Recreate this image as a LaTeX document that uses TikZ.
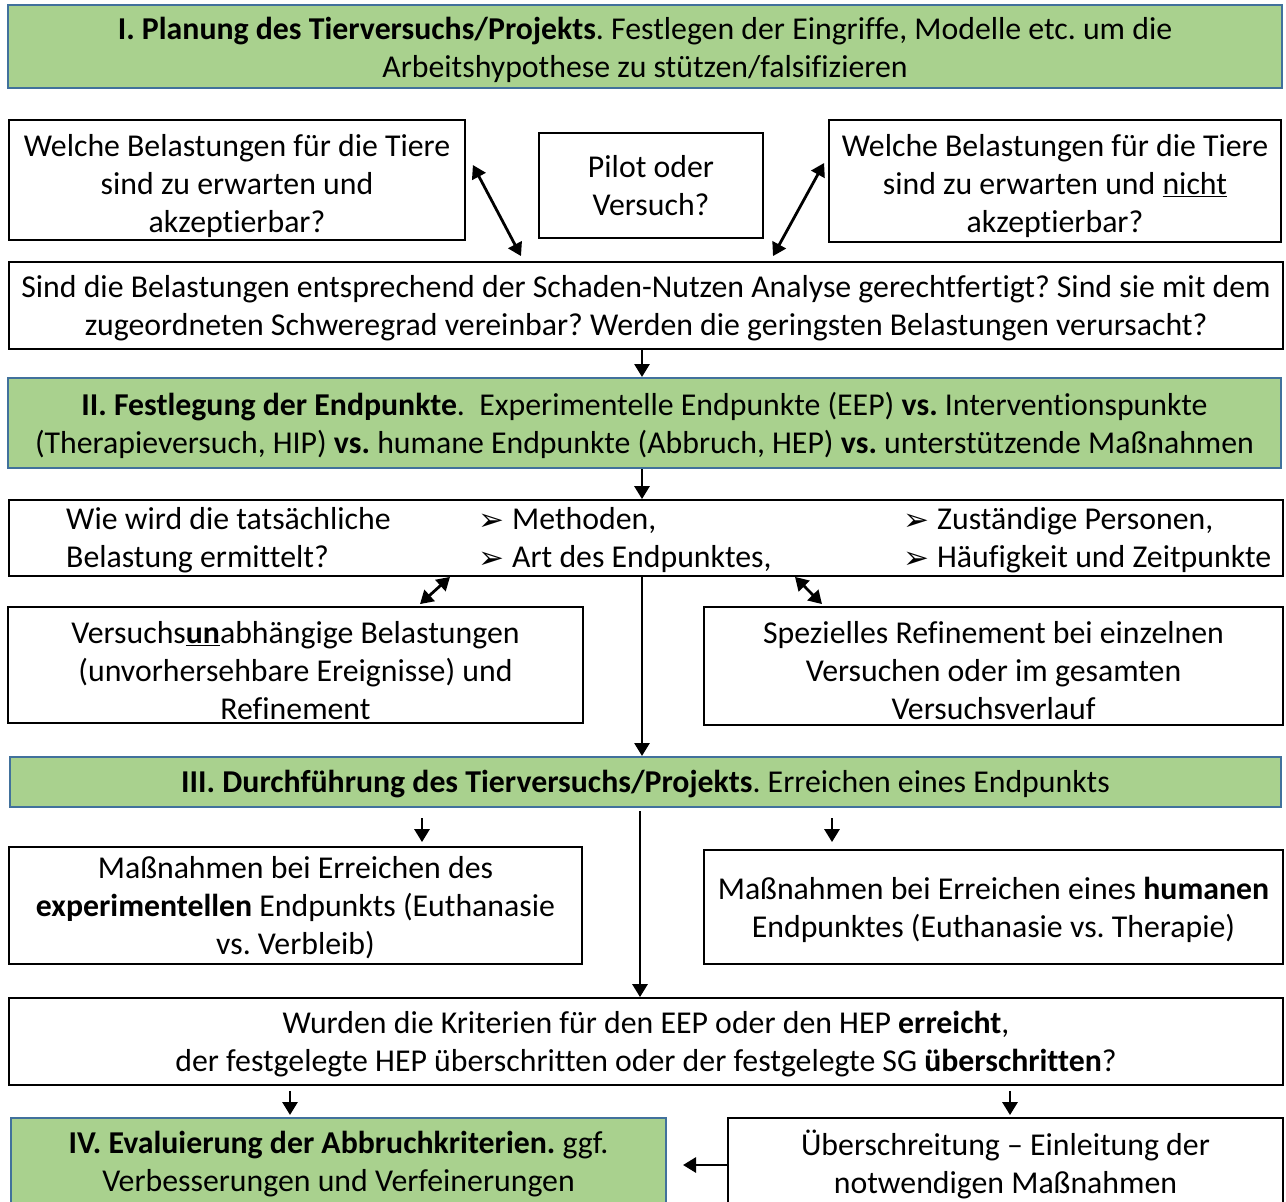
\documentclass[tikz,border=0pt]{standalone}
\usepackage{fontspec}
\setmainfont[Ligatures=NoCommon]{Carlito}
\newfontfamily\dv{DejaVu Sans}
\usetikzlibrary{arrows.meta}
\definecolor{grn}{HTML}{A9D18E}
\definecolor{gbd}{HTML}{41719C}
\tikzset{
  box/.style={draw=black, line width=1.8pt, fill=white, inner sep=0pt},
  gbox/.style={draw=gbd, line width=2pt, fill=grn, inner sep=0pt},
  txt/.style={align=center, inner sep=0pt},
  arr/.style={line width=2.8pt, -{Triangle[length=13pt,width=15pt]}},
  dbl/.style={line width=2.8pt, {Triangle[length=13pt,width=15pt]}-{Triangle[length=13pt,width=15pt]}},
}
\newcommand{\bul}{\raisebox{-1pt}{\dv\fontsize{31}{31}\selectfont ➢}\hspace{8pt}}
% #1 style, #2 name, #3 centre, #4 width, #5 height, #6 text drop, #7 text
\newcommand{\bx}[7]{%
  \node[#1, minimum width=#4pt, minimum height=#5pt] (#2) at (#3) {};
  \node[txt] (#2t) at ([yshift=-#6pt]#2.center) {#7};}
\begin{document}
\frenchspacing
\begin{tikzpicture}[x=1pt,y=-1pt]
\fontsize{31.8}{38}\selectfont
\useasboundingbox (0,0) rectangle (1286,1202);
\fill[white] (0,0) rectangle (1286,1202);

\bx{gbox}{P1}{645,46.5}{1274}{83}{3}
 {\textbf{I. Planung des Tierversuchs/Projekts}. Festlegen der Eingriffe, Modelle etc. um die\\Arbeitshypothese zu stützen/falsifizieren}

\bx{box}{L1}{237,180}{456}{120}{6}
 {Welche Belastungen für die Tiere\\sind zu erwarten und\\akzeptierbar?}
\bx{box}{M1}{651,185.5}{224}{105}{0}
 {Pilot oder\\Versuch?}
\bx{box}{R1}{1055,181}{452}{122}{5}
 {Welche Belastungen für die Tiere\\sind zu erwarten und \underline{nicht}\\akzeptierbar?}

\bx{box}{S}{646,305.5}{1274}{87}{3}
 {Sind die Belastungen entsprechend der Schaden-Nutzen Analyse gerechtfertigt? Sind sie mit dem\\zugeordneten Schweregrad vereinbar? Werden die geringsten Belastungen verursacht?}

\bx{gbox}{P2}{644.5,423}{1273}{90}{2}
 {\textbf{II. Festlegung der Endpunkte}. \ Experimentelle Endpunkte (EEP) \textbf{vs.} Interventionspunkte\\(Therapieversuch, HIP) \textbf{vs.} humane Endpunkte (Abbruch, HEP) \textbf{vs.} unterstützende Maßnahmen}

\node[box, minimum width=1274pt, minimum height=76pt] (W) at (646,538) {};
\node[anchor=west, align=left, inner sep=0pt] (W1) at (66,540)
 {Wie wird die tatsächliche\\Belastung ermittelt?};
\node[anchor=west, align=left, inner sep=0pt] (W2) at (478,540)
 {\bul Methoden,\\\bul Art des Endpunktes,};
\node[anchor=west, align=left, inner sep=0pt] (W3) at (903,540)
 {\bul Zuständige Personen,\\\bul Häufigkeit und Zeitpunkte};

\bx{box}{L2}{295.5,665}{575}{116}{6}
 {Versuchs\textbf{\underline{un}}abhängige Belastungen\\(unvorhersehbare Ereignisse) und\\Refinement}
\bx{box}{R2}{993.5,666}{579}{118}{5}
 {Spezielles Refinement bei einzelnen\\Versuchen oder im gesamten\\Versuchsverlauf}

\bx{gbox}{P3}{645.5,782}{1271}{50}{2}
 {\textbf{III. Durchführung des Tierversuchs/Projekts}. Erreichen eines Endpunkts}

\bx{box}{L3}{295.5,905.5}{573}{117}{2}
 {Maßnahmen bei Erreichen des\\\textbf{experimentellen} Endpunkts (Euthanasie\\vs. Verbleib)}
\bx{box}{R3}{993.5,907}{579}{114}{3}
 {Maßnahmen bei Erreichen eines \textbf{humanen}\\Endpunktes (Euthanasie vs. Therapie)}

\bx{box}{Q}{646,1041.5}{1274}{87}{3}
 {Wurden die Kriterien für den EEP oder den HEP \textbf{erreicht},\\der festgelegte HEP überschritten oder der festgelegte SG \textbf{überschritten}?}

\bx{gbox}{P4}{338.5,1162}{655}{88}{2}
 {\textbf{IV. Evaluierung der Abbruchkriterien.} ggf.\\Verbesserungen und Verfeinerungen}
\bx{box}{R4}{1005.5,1162}{555}{88}{2}
 {Überschreitung -- Einleitung der\\notwendigen Maßnahmen}

% connectors
\draw[dbl] ([xshift=7pt,yshift=15pt]L1.east) -- ([xshift=-125pt,yshift=5pt]S.north);
\draw[dbl] ([xshift=-4pt,yshift=18pt]R1.west) -- ([xshift=127pt,yshift=5pt]S.north);
\draw[arr] ([xshift=-4pt]S.south) -- ([xshift=-2.5pt]P2.north);
\draw[arr] ([xshift=-2.5pt]P2.south) -- ([xshift=-4pt]W.north);
\draw[dbl] ([xshift=-196pt]W.south) -- ([xshift=124.5pt,yshift=2pt]L2.north);
\draw[dbl] ([xshift=149pt]W.south) -- ([xshift=-171.5pt,yshift=2pt]R2.north);
\draw[arr] ([xshift=-4pt]W.south) -- ([xshift=-3.5pt]P3.north);
\draw[arr] ([xshift=-223.5pt,yshift=-10pt]P3.south) -- ([xshift=126.5pt,yshift=4pt]L3.north);
\draw[arr] ([xshift=186.5pt,yshift=-10pt]P3.south) -- ([xshift=-161.5pt,yshift=7pt]R3.north);
\draw[arr] ([xshift=-5.5pt,yshift=-3pt]P3.south) -- ([xshift=-6pt]Q.north);
\draw[arr] ([xshift=-356pt,yshift=-5pt]Q.south) -- ([xshift=-48.5pt,yshift=2pt]P4.north);
\draw[arr] ([xshift=364pt,yshift=-5pt]Q.south) -- ([xshift=4.5pt,yshift=2pt]R4.north);
\draw[arr] ([yshift=-3pt]R4.west) -- ([xshift=16pt,yshift=-3pt]P4.east);
\end{tikzpicture}
\end{document}
